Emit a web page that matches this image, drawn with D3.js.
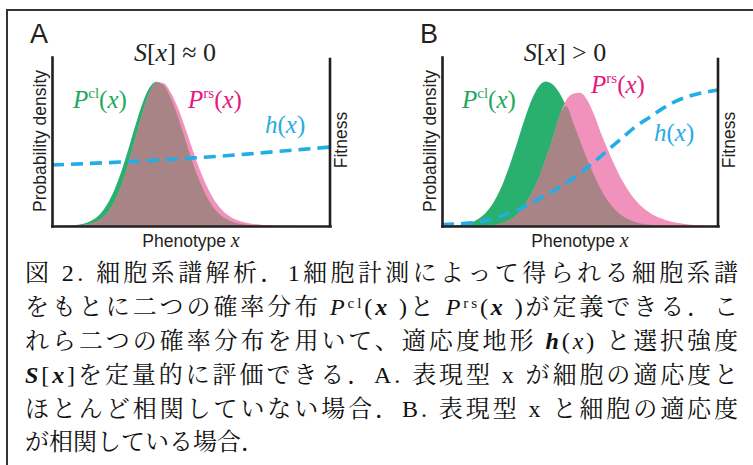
<!DOCTYPE html>
<html><head><meta charset="utf-8">
<script src="https://cdn.jsdelivr.net/npm/d3@7"></script>
<style>body{margin:0;background:#fff}svg{display:block}</style>
</head><body>
<svg id="c" width="753" height="465"></svg>
<script>
// ---------- data ----------
// phenotype grid 0 .. 10 step 0.25
const phenotype = [0,0.25,0.5,0.75,1,1.25,1.5,1.75,2,2.25,2.5,2.75,3,3.25,3.5,3.75,4,4.25,4.5,4.75,5,5.25,5.5,5.75,6,6.25,6.5,6.75,7,7.25,7.5,7.75,8,8.25,8.5,8.75,9,9.25,9.5,9.75,10];
// Panel A densities
const clA = [0,0.001,0.002,0.004,0.010,0.023,0.046,0.087,0.155,0.252,0.380,0.534,0.697,0.847,0.955,0.999,0.976,0.895,0.772,0.625,0.475,0.339,0.228,0.144,0.087,0.050,0.028,0.015,0.008,0.004,0.002,0.001,0,0,0,0,0,0,0,0,0];
const rsA = [0,0,0.001,0.002,0.004,0.010,0.022,0.047,0.093,0.171,0.282,0.435,0.607,0.779,0.919,0.993,0.990,0.932,0.832,0.702,0.561,0.424,0.305,0.208,0.136,0.086,0.054,0.034,0.022,0.014,0.009,0.006,0.004,0.002,0.001,0,0,0,0,0,0];
// Panel B densities
const clB = [0.001,0.002,0.005,0.010,0.022,0.042,0.076,0.130,0.209,0.315,0.447,0.594,0.743,0.874,0.964,1.000,0.982,0.923,0.831,0.716,0.591,0.468,0.354,0.256,0.177,0.118,0.075,0.046,0.027,0.015,0.008,0.004,0.002,0.001,0,0,0,0,0,0,0];
const rsB = [0,0,0,0,0,0,0.002,0.005,0.011,0.024,0.047,0.085,0.145,0.230,0.330,0.460,0.600,0.760,0.870,0.915,0.922,0.875,0.775,0.648,0.532,0.422,0.326,0.246,0.181,0.131,0.096,0.068,0.048,0.033,0.023,0.015,0.009,0.005,0.002,0.001,0];
// fitness h(x)
const hGridA = [0,1,2,3,4,5,6,7,8,9,10];
const hA = [0.363,0.370,0.377,0.385,0.394,0.404,0.415,0.428,0.442,0.456,0.470];
const hGridB = [0,0.5,1,1.5,2,2.5,3,3.5,4,4.5,5,5.5,6,6.5,7,7.5,8,8.5,9,9.5,10];
const hB = [0.008,0.012,0.018,0.030,0.052,0.082,0.115,0.160,0.205,0.255,0.315,0.380,0.450,0.520,0.590,0.645,0.700,0.745,0.775,0.795,0.810];

const panelLetters = ["A","B"];
const selectionText = ["≈ 0","> 0"];

// caption lines: segments [text, style]
const captionLines = [
  [["図 2. 細胞系譜解析．1細胞計測によって得られる細胞系譜"]],
  [["をもとに二つの確率分布 "],["P","mi"],["cl","sup"],["(","after"],["x","mb"],[" )と "],["P","mi"],["rs","sup"],["(","after"],["x","mb"],[" )が定義できる．こ"]],
  [["れら二つの確率分布を用いて、適応度地形 "],["h","mb"],["("],["x","mi"],[")"],[" と選択強度"]],
  [["S","mb"],["["],["x","mb"],["]を定量的に評価できる．A. 表現型 x が細胞の適応度と"]],
  [["ほとんど相関していない場合．B. 表現型 x と細胞の適応度"]],
  [["が相関している場合．"]]
];

// ---------- drawing ----------
const svg = d3.select("#c");
svg.append("rect").attr("width",753).attr("height",465).attr("fill","#fff");
svg.append("path").attr("d","M7,465V10H753").attr("fill","none").attr("stroke","#333").attr("stroke-width",2);

const C = {green:"#29b06f", pink:"#f192bd", over:"#a88487", blue:"#22aee5",
           tGreen:"#1fa85d", tPink:"#e4187f", tBlue:"#2aace2", ink:"#231f20"};
const SANS = "'Liberation Sans', Arial, Helvetica, sans-serif";
const SERIF = "'Liberation Serif', 'Times New Roman', serif";

const panels = [
  {x0:52, x1:330, cl:clA, rs:rsA, hx:hGridA, h:hA,
   lab:{cl:[73,108], rs:[188,108], h:[265,133]}, letter:[30,43], title:175},
  {x0:442, x1:718, cl:clB, rs:rsB, hx:hGridB, h:hB,
   lab:{cl:[462,108], rs:[591,93], h:[654,141]}, letter:[420,43], title:565}
];
const yTop = 57, yBot = 226;

function mathLabel(g, x, y, base, sup, color, size){
  const t = g.append("text").attr("x",x).attr("y",y).attr("fill",color)
    .attr("font-family",SERIF).attr("font-size",size);
  t.append("tspan").attr("font-style","italic").text(base);
  if(sup){
    t.append("tspan").attr("font-size",size*0.6).attr("dy",-size*0.42).text(sup);
    t.append("tspan").attr("dy",size*0.42).text("(");
  } else t.append("tspan").text("(");
  t.append("tspan").attr("font-style","italic").text("x");
  t.append("tspan").text(")");
}

panels.forEach((p,i)=>{
  const g = svg.append("g");
  const x = d3.scaleLinear().domain([0,10]).range([p.x0,p.x1]);
  const y = d3.scaleLinear().domain([0,1.17]).range([yBot,yTop]);
  const yf = d3.scaleLinear().domain([0,1]).range([yBot,yTop+1]);
  const curve = d3.curveMonotoneX;
  const area = arr => d3.area().curve(curve).x((d,k)=>x(phenotype[k])).y0(y(0)).y1((d,k)=>y(arr[k]))(arr);
  g.append("path").attr("d",area(p.cl)).attr("fill",C.green);
  g.append("path").attr("d",area(p.rs)).attr("fill",C.pink);
  const ov = p.cl.map((v,k)=>Math.min(v,p.rs[k]));
  g.append("path").attr("d",area(ov)).attr("fill",C.over);

  const line = d3.line().curve(d3.curveMonotoneX).x((d,k)=>x(p.hx[k])).y(d=>yf(d));
  g.append("path").attr("d",line(p.h)).attr("fill","none").attr("stroke",C.blue)
    .attr("stroke-width",3.6).attr("stroke-dasharray","12,7");

  // axes (domain lines only)
  const ax = g.append("g").attr("transform",`translate(0,${yBot})`)
    .call(d3.axisBottom(x).ticks(0).tickSize(0).tickSizeOuter(0));
  const ayl = g.append("g").attr("transform",`translate(${p.x0},0)`)
    .call(d3.axisLeft(y).ticks(0).tickSize(0).tickSizeOuter(0));
  const ayr = g.append("g").attr("transform",`translate(${p.x1},0)`)
    .call(d3.axisRight(yf).ticks(0).tickSize(0).tickSizeOuter(0));
  [ax,ayl,ayr].forEach(a=>a.select(".domain").attr("stroke",C.ink).attr("stroke-width",2.6).attr("stroke-linecap","square"));
  ayr.select(".domain").attr("d",`M0,${yBot}V${yTop+2}`);

  // texts
  g.append("text").attr("x",p.letter[0]).attr("y",p.letter[1]).attr("font-family",SANS)
    .attr("font-size",27).attr("fill",C.ink).text(panelLetters[i]);
  const tt = g.append("text").attr("x",p.title).attr("y",61).attr("text-anchor","middle")
    .attr("font-family",SERIF).attr("font-size",26).attr("fill",C.ink);
  tt.append("tspan").attr("font-style","italic").text("S");
  tt.append("tspan").text("[");
  tt.append("tspan").attr("font-style","italic").text("x");
  tt.append("tspan").text("] "+selectionText[i]);

  mathLabel(g,p.lab.cl[0],p.lab.cl[1],"P","cl",C.tGreen,25);
  mathLabel(g,p.lab.rs[0],p.lab.rs[1],"P","rs",C.tPink,25);
  mathLabel(g,p.lab.h[0],p.lab.h[1],"h",null,C.tBlue,25);

  g.append("text").attr("transform",`translate(${p.x0-6},141) rotate(-90)`).attr("text-anchor","middle")
    .attr("font-family",SANS).attr("font-size",17.5).attr("fill",C.ink).text("Probability density");
  g.append("text").attr("transform",`translate(${p.x1+17},140) rotate(-90)`).attr("text-anchor","middle")
    .attr("font-family",SANS).attr("font-size",17.5).attr("fill",C.ink).text("Fitness");
  const xl = g.append("text").attr("x",(p.x0+p.x1)/2).attr("y",247).attr("text-anchor","middle")
    .attr("font-family",SANS).attr("font-size",17.5).attr("fill",C.ink);
  xl.append("tspan").text("Phenotype ");
  xl.append("tspan").attr("font-family",SERIF).attr("font-style","italic").attr("font-size",20).text("x");
});

// caption
const CAPF = "'Liberation Serif', 'Noto Serif CJK JP', 'Noto Sans CJK JP', serif";
const baselines = [281,315,349,383,417,450];
captionLines.forEach((segs,li)=>{
  const t = svg.append("text").attr("x",25).attr("y",baselines[li])
    .attr("font-family",CAPF).attr("font-size",24).attr("fill","#111");
  if(li < captionLines.length-1) t.attr("textLength",713).attr("lengthAdjust","spacing");
  segs.forEach(([s,st])=>{
    const ts = t.append("tspan").text(s);
    if(st==="mi") ts.attr("font-style","italic");
    if(st==="mb") ts.attr("font-style","italic").attr("font-weight","bold");
    if(st==="sup") ts.attr("font-size",15).attr("dy",-7);
    if(st==="after") ts.attr("dy",7);
  });
});
</script>
</body></html>
